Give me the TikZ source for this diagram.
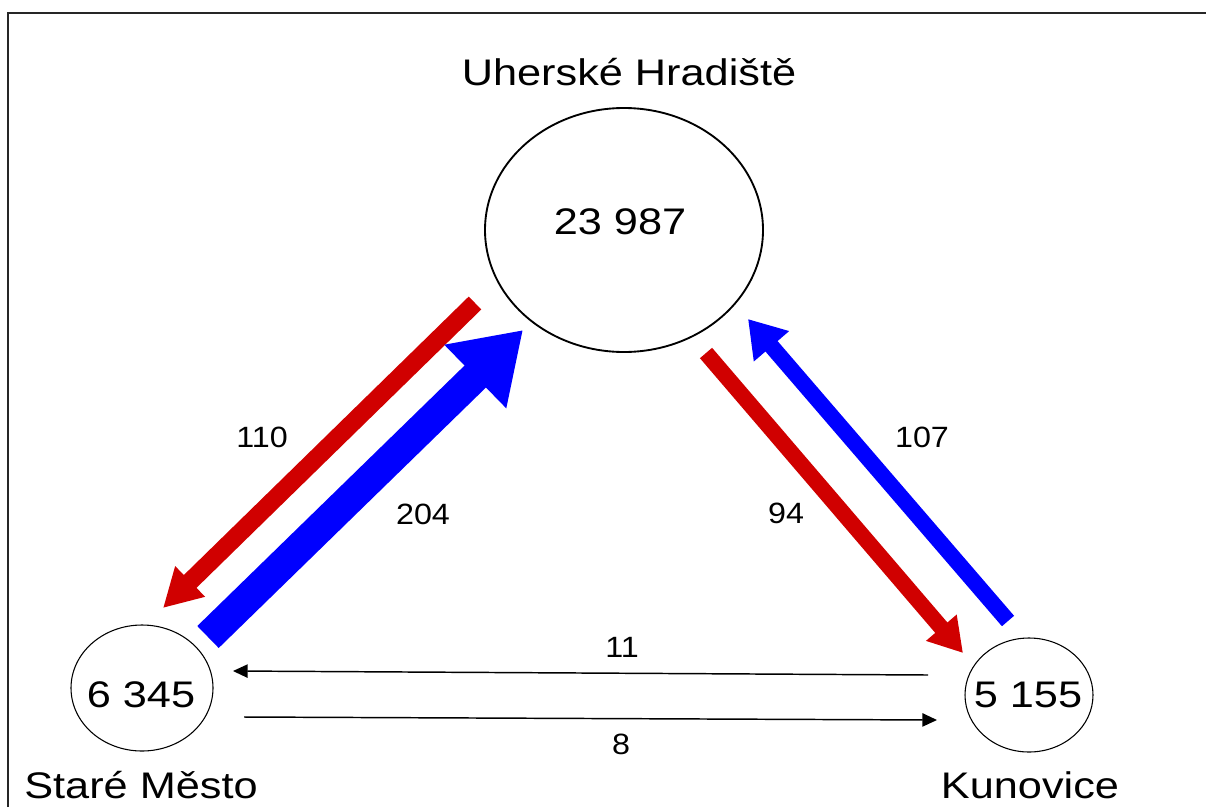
\documentclass[tikz,border=0pt]{standalone}
\usepackage{fontspec}
\setmainfont{Liberation Sans}
\usepackage{graphicx}
\usepackage{tikz}
\usetikzlibrary{shapes,shapes.geometric}
\usetikzlibrary{arrows.meta}
\definecolor{tokred}{RGB}{208,0,0}
\definecolor{tokblue}{RGB}{0,0,255}
\newcommand{\wide}[1]{\scalebox{1.17}[1]{#1}}
\newcommand{\widesmall}[1]{\scalebox{1.1}[1]{#1}}

\begin{document}
\begin{tikzpicture}[x=0.75pt,y=-0.75pt,
	town/.style={draw,ellipse,inner sep=0pt},
	townpop/.style={inner sep=0pt,font=\fontsize{27.75}{30}\selectfont},
	townname/.style={anchor=base,inner sep=0pt,font=\fontsize{27.75}{30}\selectfont},
	flowlabel/.style={inner sep=0pt,font=\fontsize{22}{24}\selectfont},
	thinflow/.style={line width=1.1pt,-{Triangle[length=11pt,width=10pt]}}]
			\useasboundingbox (0,0) rectangle (1206,807);
			\draw [line width=1.1pt,black!85] (8,807) -- (8,13) -- (1206,13);
			\node [town,line width=1.4pt,minimum width=208.5pt,minimum height=183pt] (uh) at (624,230) {};
			\node [town,line width=0.8pt,minimum width=106.5pt,minimum height=94.5pt] (sm) at (142,688) {};
			\node [town,line width=0.8pt,minimum width=96pt,minimum height=85.5pt] (ku) at (1029,695) {};
			\node [townpop] (uhpop) at (620,222) {\wide{23 987}};
			\node [townpop] (smpop) at (141,695) {\wide{6 345}};
			\node [townpop] (kupop) at (1028,695) {\wide{5 155}};
			\node [townname] (uhname) at (629,85) {\wide{Uherské Hradiště}};
			\node [townname] (smname) at (141,798) {\wide{Staré Město}};
			\node [townname] (kuname) at (1030,798) {\wide{Kunovice}};
			\coordinate (uhsmA) at (475,303);
			\coordinate (uhsmB) at (163,608);
			\coordinate (smuhA) at (208,637);
			\coordinate (smuhB) at (523,330);
			\coordinate (uhkuA) at (706,353);
			\coordinate (uhkuB) at (963,653);
			\coordinate (kuuhA) at (1008,621);
			\coordinate (kuuhB) at (748,319);
			\coordinate (kusmA) at (928,675);
			\coordinate (kusmB) at (233,671);
			\coordinate (smkuA) at (244,717);
			\coordinate (smkuB) at (937,720);
			\draw [tokred,line width=13.5pt,-{Triangle[length=28.5pt,width=30pt]}] (uhsmA) -- (uhsmB);
			\draw [tokblue,line width=23pt,-{Triangle[length=50pt,width=63pt]}] (smuhA) -- (smuhB);
			\draw [tokred,line width=12pt,-{Triangle[length=25pt,width=28.5pt]}] (uhkuA) -- (uhkuB);
			\draw [tokblue,line width=12pt,-{Triangle[length=27pt,width=33pt]}] (kuuhA) -- (kuuhB);
			\draw [thinflow] (kusmA) -- (kusmB);
			\draw [thinflow] (smkuA) -- (smkuB);
			\node [flowlabel] (l110) at (262,437) {\widesmall{110}};
			\node [flowlabel] (l204) at (423,514) {\widesmall{204}};
			\node [flowlabel] (l94) at (786,513) {\widesmall{94}};
			\node [flowlabel] (l107) at (922,437) {\widesmall{107}};
			\node [flowlabel] (l11) at (622,647) {\widesmall{11}};
			\node [flowlabel] (l8) at (621,744) {\widesmall{8}};
		\end{tikzpicture}
\end{document}
